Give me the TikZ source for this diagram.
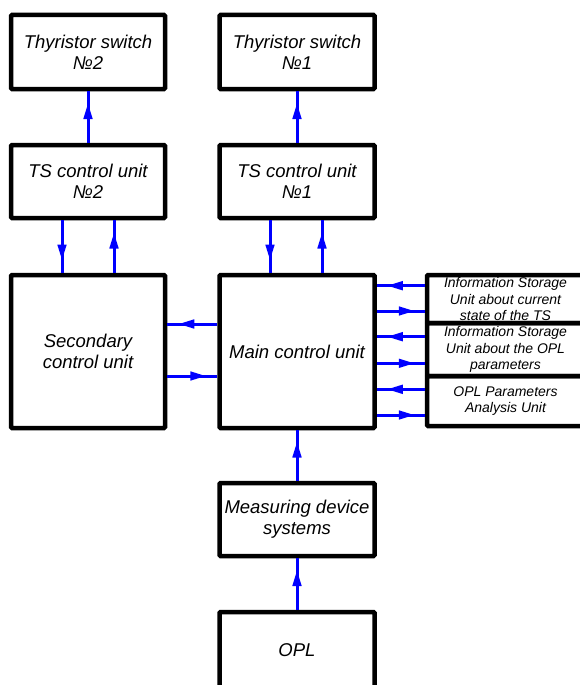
\documentclass[tikz,border=0pt]{standalone}
\usepackage{fontspec}
\setmainfont{Liberation Sans}
\usetikzlibrary{arrows.meta,decorations.markings}

\begin{document}
\begin{tikzpicture}[
        x=1pt, y=-1pt,
        block/.style={rectangle, draw, line width=4.5pt, rounded corners=1pt, align=center, inner sep=0pt, minimum width=155pt, minimum height=74pt, font=\itshape\fontsize{18.5}{21}\selectfont},
        infobox/.style={block, minimum width=157pt, font=\itshape\fontsize{14}{16.5}\selectfont},
        link/.style={blue, line width=3pt, postaction={decorate}, decoration={markings, mark=at position 0.5 with {\pgftransformxshift{14pt}\arrow{Triangle[length=16pt,width=8.5pt]}}}}
      ]
        \useasboundingbox (0,0) rectangle (580,685);

        % Top level - thyristor switches
        \node[block, minimum width=154pt] (ts2) at (88,52) {Thyristor switch\\№2};
        \node[block] (ts1) at (297,52) {Thyristor switch\\№1};

        % Second level - TS control units
        \node[block, minimum width=154pt, minimum height=73pt] (tsc2) at (88,181.5) {TS control unit\\№2};
        \node[block, minimum height=73pt] (tsc1) at (297,181.5) {TS control unit\\№1};

        % Third level - control units
        \node[block, minimum width=154pt, minimum height=153pt] (sec) at (88,351.5) {Secondary\\control unit};
        \node[block, minimum height=153pt] (main) at (297,351.5) {Main control unit};

        % Third level - storage and analysis units
        \node[infobox, minimum height=48pt] (isuA) at (505.5,299) {Information Storage\\Unit about current\\state of the TS};
        \node[infobox, minimum height=53pt] (isuB) at (505.5,349.5) {Information Storage\\Unit about the OPL\\parameters};
        \node[infobox, minimum height=50pt] (isuC) at (505.5,401) {OPL Parameters\\Analysis Unit};

        % Bottom levels
        \node[block, minimum height=73pt] (meas) at (297,519.5) {Measuring device\\systems};
        \node[block, minimum height=76pt] (opl) at (297,650) {OPL};

        % Arrows
        \draw[link] (tsc2.north) -- (ts2.south);
        \draw[link] (tsc1.north) -- (ts1.south);
        \draw[link] ([xshift=-26pt]tsc2.south) -- ([xshift=-26pt]sec.north);
        \draw[link] ([xshift=26pt]sec.north) -- ([xshift=26pt]tsc2.south);
        \draw[link] ([xshift=-27pt]tsc1.south) -- ([xshift=-27pt]main.north);
        \draw[link] ([xshift=25pt]main.north) -- ([xshift=25pt]tsc1.south);
        \draw[link] ([yshift=27.5pt]main.west) -- ([yshift=27.5pt]sec.east);
        \draw[link] ([yshift=-24.5pt]sec.east) -- ([yshift=-24.5pt]main.west);
        \foreach \unit/\yin/\yout in {isuA/285.7/311, isuB/336.7/363.3, isuC/389.3/415} {
          \draw[link] (\unit.west |- 0,\yin) -- (main.east |- 0,\yin);
          \draw[link] (main.east |- 0,\yout) -- (\unit.west |- 0,\yout);
        }
        \draw[link] (meas.north) -- (main.south);
        \draw[link] (opl.north) -- (meas.south);
      \end{tikzpicture}
\end{document}
